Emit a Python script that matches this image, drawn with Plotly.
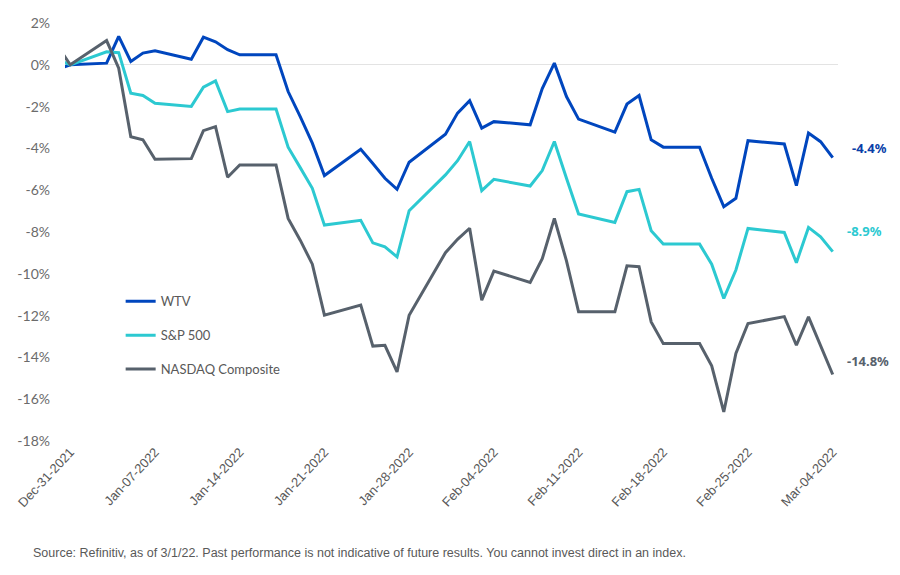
import plotly.graph_objects as go

dates = [
    "2021-12-30", "2021-12-31",
    "2022-01-03", "2022-01-04", "2022-01-05", "2022-01-06", "2022-01-07",
    "2022-01-10", "2022-01-11", "2022-01-12", "2022-01-13", "2022-01-14",
    "2022-01-17", "2022-01-18", "2022-01-19", "2022-01-20", "2022-01-21",
    "2022-01-24", "2022-01-25", "2022-01-26", "2022-01-27", "2022-01-28",
    "2022-01-31", "2022-02-01", "2022-02-02", "2022-02-03", "2022-02-04",
    "2022-02-07", "2022-02-08", "2022-02-09", "2022-02-10", "2022-02-11",
    "2022-02-14", "2022-02-15", "2022-02-16", "2022-02-17", "2022-02-18",
    "2022-02-21", "2022-02-22", "2022-02-23", "2022-02-24", "2022-02-25",
    "2022-02-28", "2022-03-01", "2022-03-02", "2022-03-03", "2022-03-04",
]

wtv = [
    -0.20, 0.00,
    0.08, 1.36, 0.16, 0.56, 0.67,
    0.27, 1.32, 1.10, 0.72, 0.48,
    0.48, -1.28, -2.48, -3.75, -5.30,
    -4.04, -4.72, -5.43, -5.96, -4.66,
    -3.32, -2.31, -1.72, -3.03, -2.72,
    -2.87, -1.14, 0.08, -1.52, -2.60,
    -3.22, -1.88, -1.47, -3.59, -3.94,
    -3.94, -5.43, -6.79, -6.39, -3.63,
    -3.79, -5.78, -3.27, -3.68, -4.44,
]

sp500 = [
    0.25, 0.00,
    0.62, 0.58, -1.36, -1.47, -1.84,
    -1.99, -1.07, -0.77, -2.24, -2.12,
    -2.12, -3.94, -4.92, -5.91, -7.67,
    -7.44, -8.52, -8.71, -9.19, -6.98,
    -5.27, -4.59, -3.67, -6.02, -5.48,
    -5.80, -5.06, -3.67, -5.43, -7.14,
    -7.54, -6.07, -5.96, -7.94, -8.58,
    -8.58, -9.54, -11.18, -9.82, -7.83,
    -8.02, -9.47, -7.78, -8.23, -8.94,
]

nasdaq = [
    0.85, 0.00,
    1.16, -0.16, -3.44, -3.59, -4.52,
    -4.49, -3.15, -2.96, -5.38, -4.79,
    -4.79, -7.35, -8.39, -9.54, -11.98,
    -11.50, -13.46, -13.42, -14.69, -11.98,
    -8.99, -8.35, -7.82, -11.26, -9.87,
    -10.41, -9.28, -7.35, -9.38, -11.82,
    -11.82, -9.62, -9.66, -12.30, -13.34,
    -13.34, -14.40, -16.61, -13.81, -12.38,
    -12.05, -13.42, -12.06, -13.45, -14.82,
]

series_names = ["WTV", "S&P 500", "NASDAQ Composite"]
series_values = [wtv, sp500, nasdaq]
series_colors = ["#0046BE", "#2CC9D1", "#57616C"]
label_colors = ["#0A3FA8", "#2CC9D1", "#57616C"]
label_shift = [(17, 10), (12, 21), (12, 14)]

tick_dates = ["2021-12-31", "2022-01-07", "2022-01-14", "2022-01-21", "2022-01-28",
              "2022-02-04", "2022-02-11", "2022-02-18", "2022-02-25", "2022-03-04"]
y_ticks = list(range(-18, 3, 2))
y_ticktext = [f"{v}%" for v in y_ticks]

footnote = ("Source: Refinitiv, as of 3/1/22. Past performance is not indicative of "
            "future results. You cannot invest direct in an index.")

fig = go.Figure()
for i, (name, vals, col) in enumerate(zip(series_names, series_values, series_colors)):
    fig.add_trace(go.Scatter(
        x=dates, y=vals, name=name, mode="lines",
        line=dict(color=col, width=3), legendgroup=name,
        hoverinfo="skip",
    ))
    fig.add_annotation(
        x=dates[-1], y=vals[-1], xref="x", yref="y",
        text=f"<b>{vals[-1]:.1f}%</b>", showarrow=False,
        xanchor="left", yanchor="middle",
        xshift=label_shift[i][0], yshift=label_shift[i][1],
        font=dict(family="Noto Sans, Liberation Sans", size=13, color=label_colors[i]),
    )

fig.add_annotation(
    xref="paper", yref="paper", x=-0.044, y=-0.268,
    text=footnote, showarrow=False, xanchor="left", yanchor="middle",
    font=dict(family="Liberation Sans, Arial", size=12.5, color="#595959"),
)

fig.update_layout(
    width=892, height=567,
    margin=dict(l=57, r=62, t=15, b=134, autoexpand=False),
    plot_bgcolor="white", paper_bgcolor="white",
    showlegend=True,
    legend=dict(
        x=0.072, y=0.37, xanchor="left", yanchor="top",
        font=dict(family="Lato, Noto Sans", size=13, color="#595959"),
        bgcolor="rgba(0,0,0,0)", tracegroupgap=14, itemwidth=30,
    ),
    xaxis=dict(
        type="date", automargin=False,
        range=["2021-12-30 13:30", "2022-03-04 10:30"],
        tickvals=tick_dates, tickformat="%b-%d-%Y", tickangle=-47,
        showgrid=False, zeroline=False, showline=False, ticks="",
        tickfont=dict(family="Liberation Sans Narrow, Liberation Sans, Arial", size=13,
                      color="#595959"),
    ),
    yaxis=dict(
        range=[-18, 2], tickmode="array", tickvals=y_ticks, ticktext=y_ticktext,
        automargin=False,
        showgrid=False, zeroline=True, zerolinecolor="#E3E3E3", zerolinewidth=1,
        showline=False, ticks="", ticklabelstandoff=14,
        tickfont=dict(family="Lato, Noto Sans", size=14, color="#6B6B6B"),
    ),
)

fig.write_html("out.html")
